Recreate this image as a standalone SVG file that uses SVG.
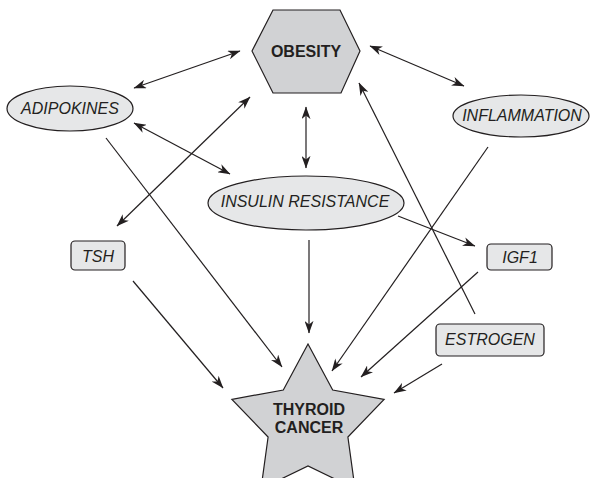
<svg xmlns="http://www.w3.org/2000/svg" width="592" height="478" viewBox="0 0 592 478">
<style>
.dark{fill:#d1d2d4;stroke:#231f20;stroke-width:1.2}
.light{fill:#e6e7e8;stroke:#231f20;stroke-width:1.2}
.bt{font-family:"Liberation Sans",Arial,sans-serif;font-weight:bold;font-size:16px;fill:#231f20;text-anchor:middle}
.it{font-family:"Liberation Sans",Arial,sans-serif;font-style:italic;font-size:16px;fill:#231f20;text-anchor:middle}
.c line{stroke:#231f20;stroke-width:1.2;fill:none}
.e{marker-end:url(#ah)}
.b{marker-start:url(#ah);marker-end:url(#ah)}
</style>
<defs>
<marker id="ah" viewBox="0 0 14 10" refX="13.5" refY="5" markerWidth="13" markerHeight="9" markerUnits="userSpaceOnUse" orient="auto-start-reverse">
<path d="M0,0 L14,5 L0,10 L4,5 Z" fill="#231f20"/>
</marker>
</defs>
<rect width="592" height="478" fill="#ffffff"/>
<g class="c" id="connectors">
<line class="b" x1="134" y1="88" x2="240" y2="51"/>
<line class="b" x1="134" y1="123" x2="230" y2="174"/>
<line class="b" x1="250" y1="97" x2="117" y2="226"/>
<line class="e" x1="106" y1="138" x2="282" y2="367"/>
<line class="e" x1="133" y1="281" x2="223" y2="388"/>
<line class="b" x1="306" y1="107" x2="306" y2="168"/>
<line class="b" x1="370" y1="46" x2="464" y2="86"/>
<line class="e" x1="309" y1="240" x2="309" y2="333"/>
<line class="e" x1="398" y1="216" x2="475" y2="246"/>
<line class="e" x1="488" y1="147" x2="332" y2="371"/>
<line class="e" x1="475" y1="314" x2="359" y2="83"/>
<line class="e" x1="478" y1="272" x2="361" y2="377"/>
<line class="e" x1="442" y1="364" x2="394" y2="393"/>
</g>
<g id="obesity">
<polygon class="dark" points="252,51 273,10 340,10 360,51 341,93 273,93"/>
<text class="bt" x="306" y="57">OBESITY</text>
</g>
<g id="adipokines">
<ellipse class="light" cx="70" cy="108.5" rx="63" ry="22.5"/>
<text class="it" x="70" y="114">ADIPOKINES</text>
</g>
<g id="inflammation">
<ellipse class="light" cx="521" cy="116" rx="68" ry="21"/>
<text class="it" x="522" y="121">INFLAMMATION</text>
</g>
<g id="insulin">
<ellipse class="light" cx="306" cy="203" rx="98" ry="27"/>
<text class="it" x="305" y="207">INSULIN RESISTANCE</text>
</g>
<g id="tsh">
<rect class="light" x="71" y="241" width="54" height="29" rx="4"/>
<text class="it" x="98" y="262">TSH</text>
</g>
<g id="igf1">
<rect class="light" x="487" y="244" width="65" height="26" rx="4"/>
<text class="it" x="520" y="263">IGF1</text>
</g>
<g id="estrogen">
<rect class="light" x="436" y="324" width="108" height="32" rx="4"/>
<text class="it" x="490" y="345">ESTROGEN</text>
</g>
<g id="thyroid">
<polygon class="dark" points="308,344 332.7,390 384.1,399.3 347.9,437 355,488.7 308,466 261,488.7 268.1,437 231.9,399.3 283.3,390"/>
<text class="bt" x="309" y="415">THYROID</text>
<text class="bt" x="309" y="433">CANCER</text>
</g>
</svg>
